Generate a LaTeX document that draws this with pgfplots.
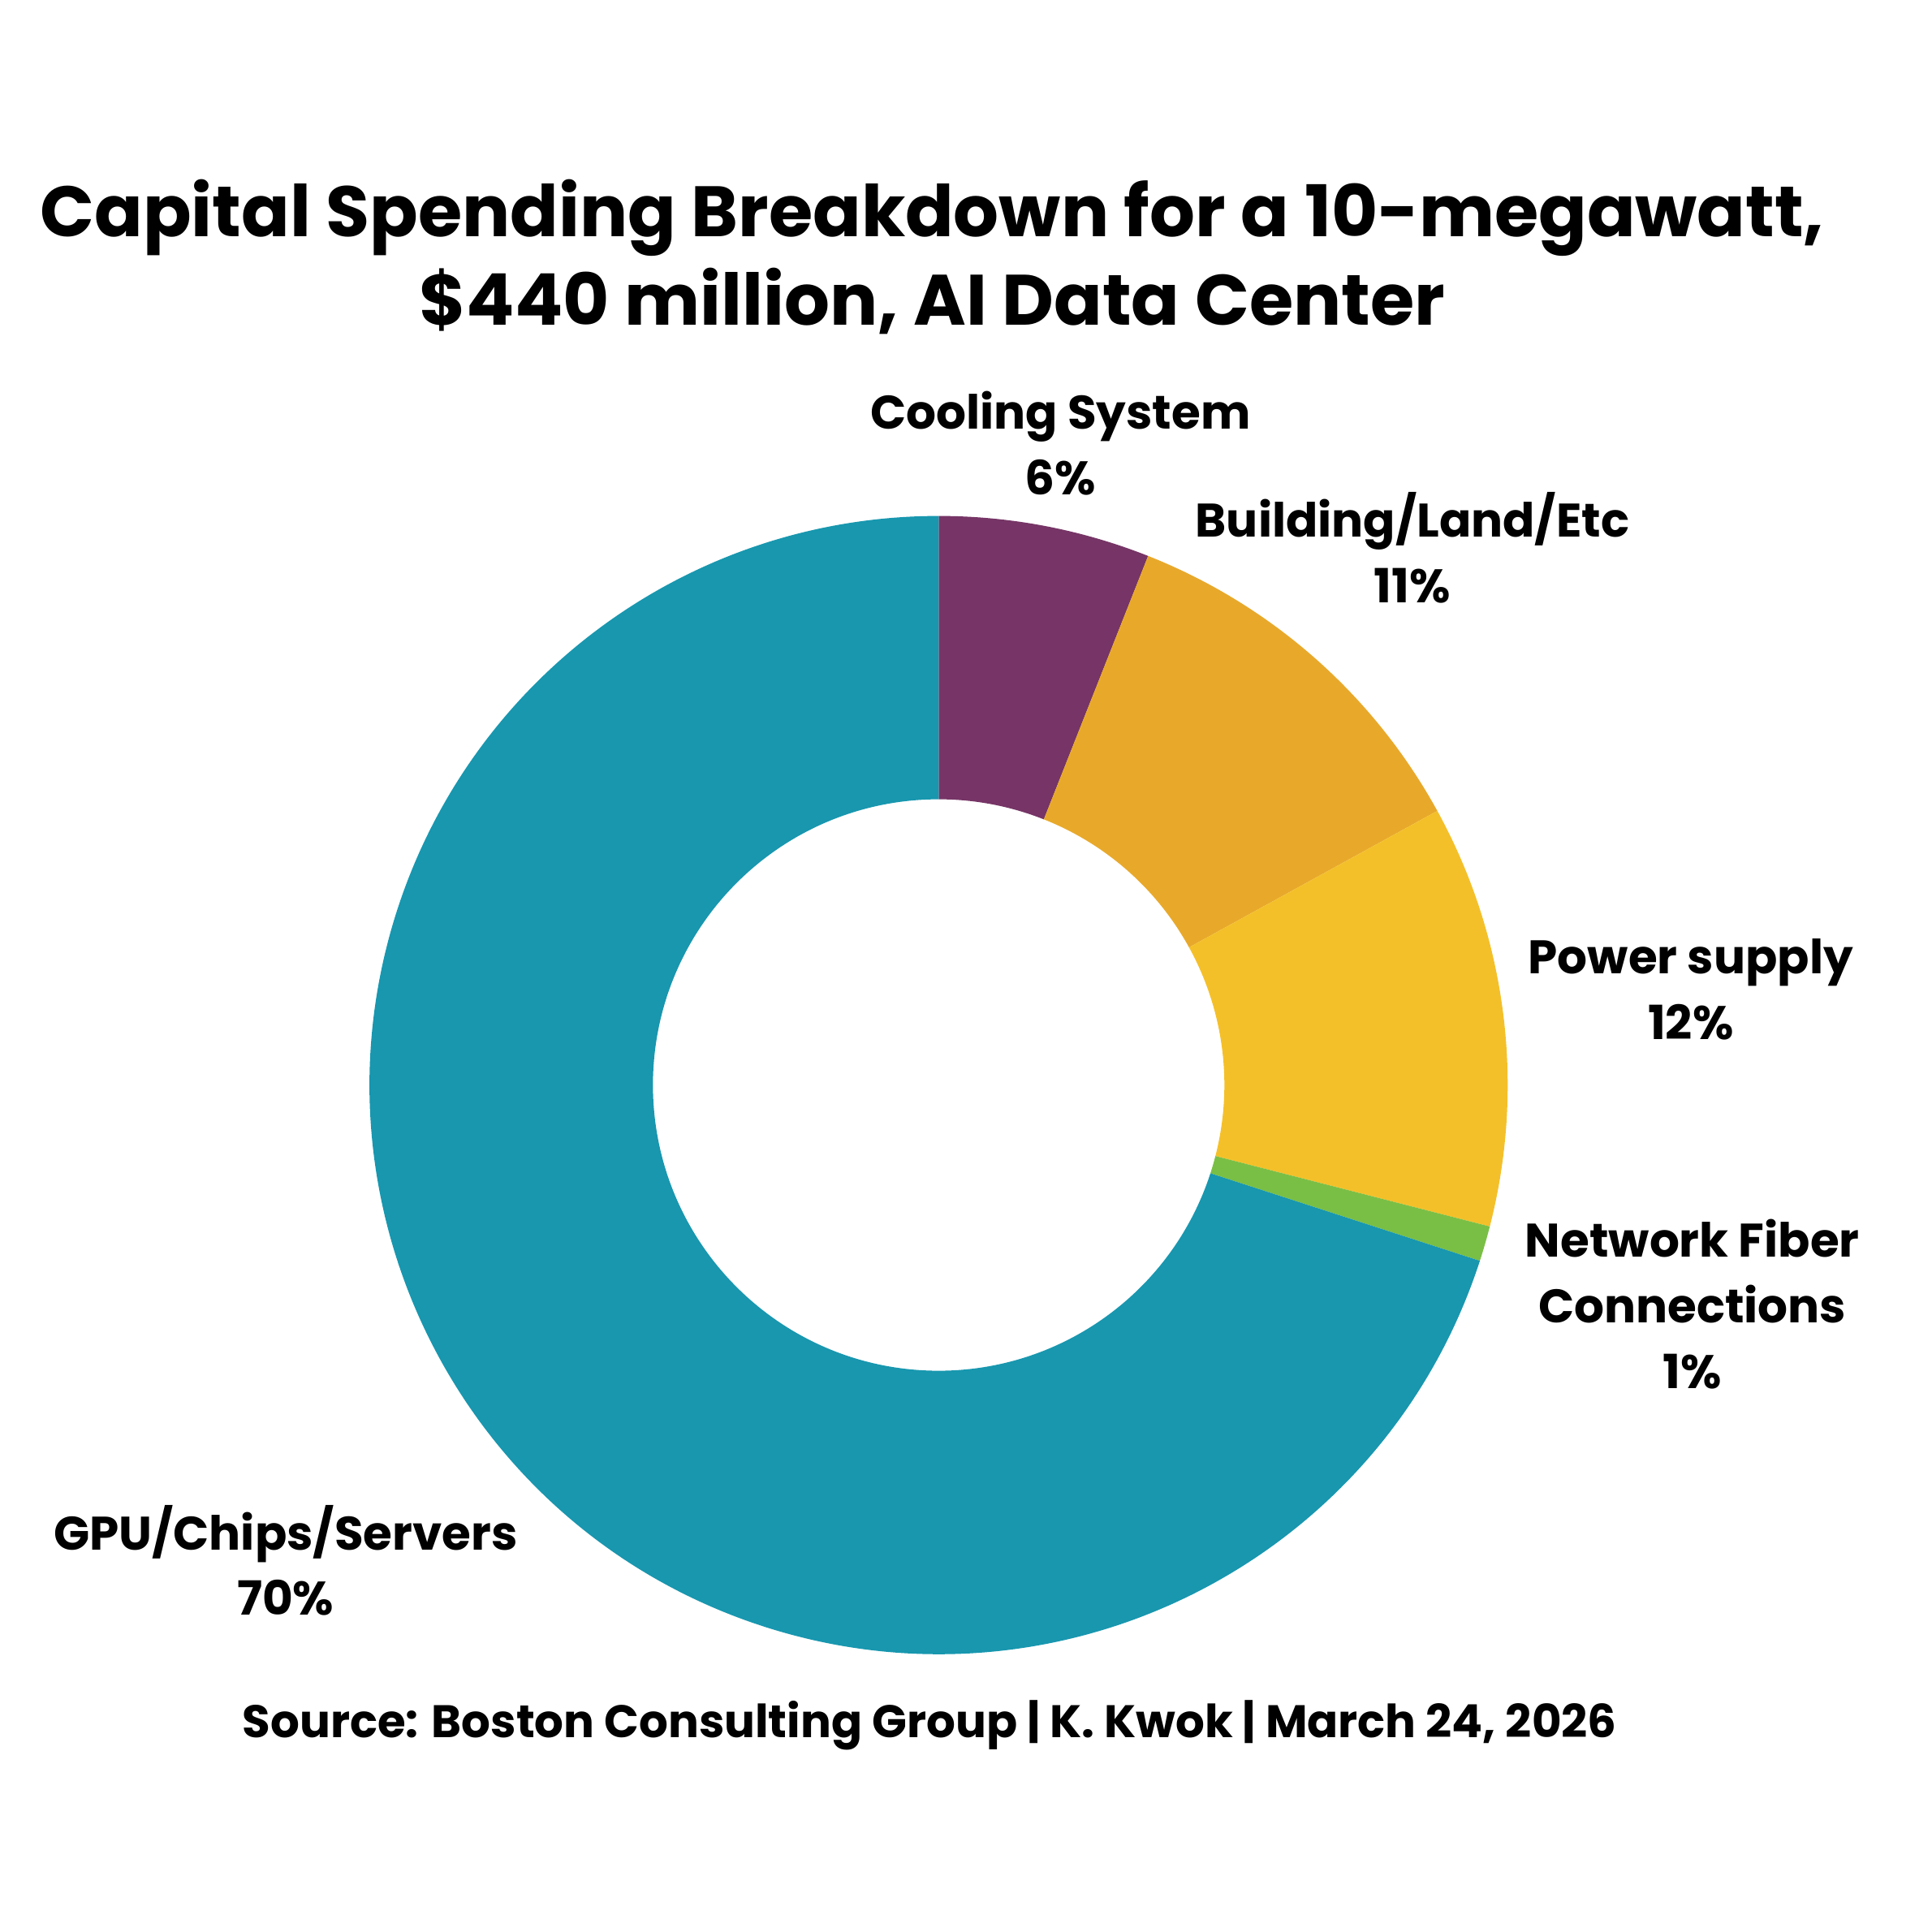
\documentclass[border=0pt]{standalone}
\usepackage{pgfplots}
\usepackage{pgfplotstable}
\usepackage{fontspec}
\setmainfont{Poppins}
\pgfplotsset{compat=1.18}

\definecolor{gpu}{HTML}{1897AF}
\definecolor{cool}{HTML}{763566}
\definecolor{build}{HTML}{E8A92B}
\definecolor{power}{HTML}{F4C02A}
\definecolor{net}{HTML}{7ABF45}

% share of capital spending, clockwise from the top
\pgfplotstableread[col sep=comma]{
name,value,color
Cooling System,6,cool
Building/Land/Etc,11,build
Power supply,12,power
Network Fiber Connections,1,net
GPU/Chips/Servers,70,gpu
}\slices

\newcommand\cx{1157}
\newcommand\cy{1044}
\newcommand\rout{7.01cm}
\newcommand\rin{3.52cm}

\begin{document}
\begin{tikzpicture}
\useasboundingbox (0,0) rectangle (23.8cm,23.8cm);
\begin{axis}[
  at={(0,0)}, anchor=south west,
  x=0.01cm, y=0.01cm,
  xmin=0, xmax=2380, ymin=0, ymax=2380,
  hide axis, clip=false,
]
\gdef\acc{0}
\pgfplotsforeachungrouped \i in {0,...,4}{
  \pgfplotstablegetelem{\i}{value}\of\slices \let\v\pgfplotsretval
  \pgfplotstablegetelem{\i}{color}\of\slices \let\c\pgfplotsretval
  \pgfmathsetmacro\sa{90-3.6*\acc}
  \pgfmathsetmacro\ea{90-3.6*(\acc+\v)}
  \pgfmathsetmacro\acc{\acc+\v}
  \xdef\acc{\acc}
  \edef\temp{\noexpand\fill[\c, shift={(axis cs:\cx,\cy)}]
    (canvas polar cs:angle=\sa,radius=\rout)
    arc[start angle=\sa, end angle=\ea, radius=\rout]
    -- (canvas polar cs:angle=\ea,radius=\rin)
    arc[start angle=\ea, end angle=\sa, radius=\rin] -- cycle;}
  \temp
}

\begin{scope}[every node/.style={align=center, font=\bfseries\fontsize{16.5}{23}\selectfont}]
\node at (axis cs:1307,1835) {Cooling System\\6\%};
\node at (axis cs:1741,1706) {Building/Land/Etc\\11\%};
\node at (axis cs:2084,1162) {Power supply\\12\%};
\node at (axis cs:2086,774) {Network Fiber\\Connections\\1\%};
\node at (axis cs:352,458) {GPU/Chips/Servers\\70\%};
\end{scope}
\node[font=\bfseries\fontsize{16}{20}\selectfont] at (axis cs:1146,255)
  {Source: Boston Consulting Group | K. Kwok | March 24, 2026};
\node[align=center, font=\bfseries\fontsize{25}{31}\selectfont] at (axis cs:1149,2065)
  {Capital Spending Breakdown for a 10-megawatt,\\\$440 million, AI Data Center};
\end{axis}
\end{tikzpicture}
\end{document}
